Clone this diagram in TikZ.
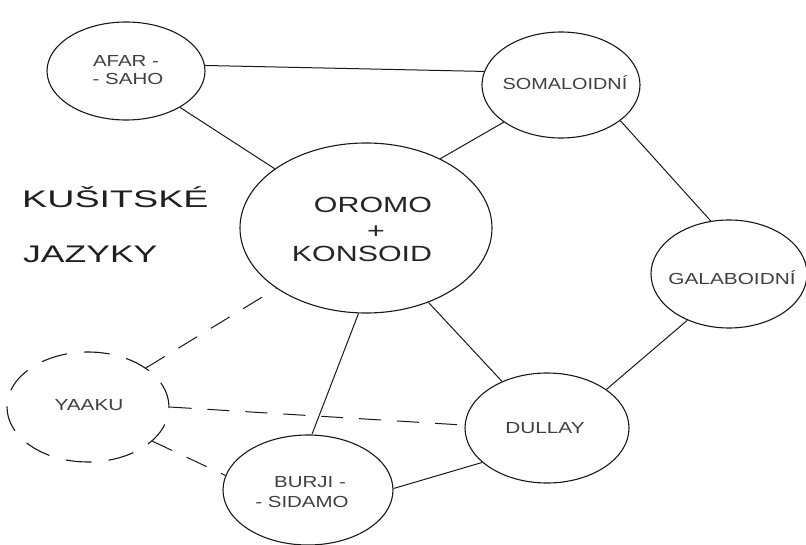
\documentclass[tikz,border=0pt]{standalone}
\usepackage{fontspec}
\setmainfont{Liberation Sans}
\usetikzlibrary{shapes.geometric}
\newcommand\hsc[2]{\scalebox{#1}[1]{#2}}
\begin{document}
\begin{tikzpicture}[x=1pt,y=-1pt,
  bub/.style={ellipse, draw=black!90, line width=1.1pt, inner sep=0pt},
  dbub/.style={bub, dash pattern=on 26pt off 17pt},
  link/.style={draw=black!90, line width=1pt},
  dlink/.style={link, dash pattern=on 22pt off 16pt},
  lbl/.style={inner sep=0pt, anchor=base, text=black!75, font=\fontsize{16}{18}\selectfont},
  biglbl/.style={inner sep=0pt, anchor=base, text=black!85, font=\fontsize{22}{24}\selectfont},
  title/.style={inner sep=0pt, anchor=base west, text=black!88, font=\fontsize{24}{28}\selectfont}]
\useasboundingbox (0,0) rectangle (806,545);
\fill[white] (0,0) rectangle (806,545);

% bubbles
\node[bub, minimum width=158pt, minimum height=98pt] (afar) at (126,71) {};
\node[bub, minimum width=158pt, minimum height=106pt] (soma) at (561,85) {};
\node[bub, minimum width=252pt, minimum height=170pt] (oromo) at (366,228) {};
\node[bub, minimum width=156pt, minimum height=108pt] (gala) at (729,274) {};
\node[dbub, minimum width=162pt, minimum height=110pt] (yaaku) at (88,407) {};
\node[bub, minimum width=164pt, minimum height=110pt] (dullay) at (547,428) {};
\node[bub, minimum width=170pt, minimum height=110pt] (burji) at (308,490) {};

% labels
\node[lbl] (afar1) at (126,67) {\hsc{1.28}{AFAR -}};
\node[lbl] (afar2) at (128,85) {\hsc{1.28}{- SAHO}};
\node[lbl] (somat) at (565,90) {\hsc{1.24}{SOMALOIDNÍ}};
\node[lbl] (galat) at (732,285) {\hsc{1.3}{GALABOIDNÍ}};
\node[lbl] (yaakut) at (89,410) {\hsc{1.3}{YAAKU}};
\node[lbl] (dullayt) at (545,433) {\hsc{1.3}{DULLAY}};
\node[lbl] (burji1) at (310,487) {\hsc{1.28}{BURJI -}};
\node[lbl] (burji2) at (302,507) {\hsc{1.28}{- SIDAMO}};
\node[biglbl] (oro1) at (373,213) {\hsc{1.38}{OROMO}};
\node[biglbl] (oro2) at (376,239) {\hsc{1.38}{+}};
\node[biglbl] (oro3) at (362,262) {\hsc{1.38}{KONSOID}};
\node[title] (kus) at (22,208) {\hsc{1.57}{KUŠITSKÉ}};
\node[title] (jaz) at (23,263) {\hsc{1.48}{JAZYKY}};

% solid connectors
\draw[link] (afar.4) -- (soma.170);
\draw[link] (afar.-34) -- (oromo.147);
\draw[link] (soma.213) -- (oromo.43);
\draw[link] (soma.-31) -- (gala.109);
\draw[link] (oromo.-50) -- (dullay.134);
\draw[link] (gala.-132) -- (dullay.33);
\draw[link] (oromo.265) -- (burji.86);
\draw[link] (burji.1) -- (dullay.208);

% dashed connectors
\draw[dlink] (yaaku.34) -- (oromo.214);
\draw[dlink] (yaaku.0) -- (dullay.178);
\draw[dlink] (yaaku.-28) -- (burji.170);
\end{tikzpicture}
\end{document}
